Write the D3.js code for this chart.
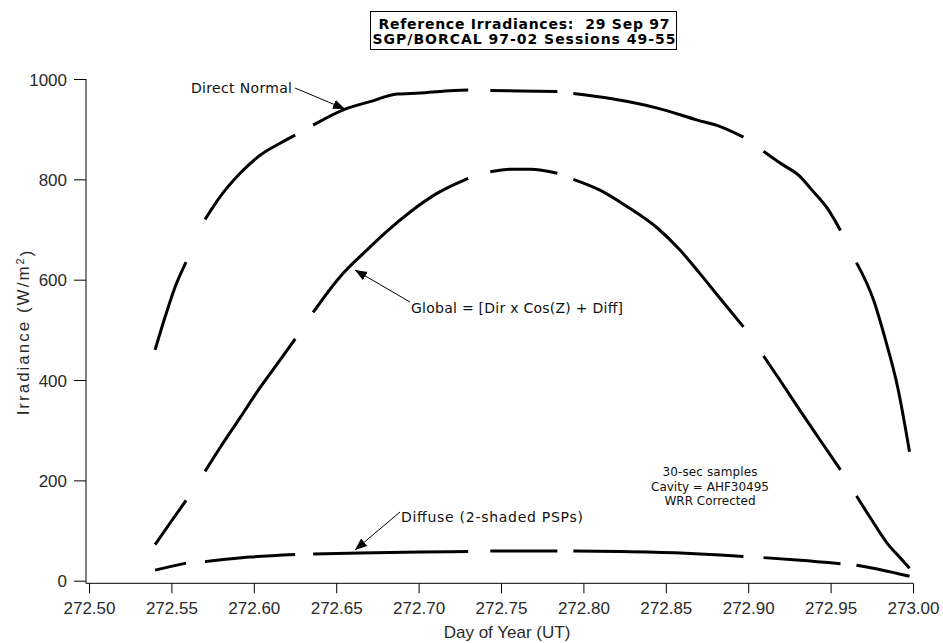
<!DOCTYPE html>
<html>
<head>
<meta charset="utf-8">
<script src="https://cdn.jsdelivr.net/npm/d3@7"></script>
<style>
  body { margin: 0; background: #fff; }
  svg { display: block; }
  .tick text { font-family: "Liberation Sans", Arial, sans-serif; font-size: 17px; fill: #2a2a2a; }
  .note { font-family: "DejaVu Sans", sans-serif; font-size: 14px; fill: #111; }
</style>
</head>
<body>
<svg width="943" height="643"></svg>
<script>
const width = 943;
const height = 643;

// x ticks (day of year, UT) and y ticks (W/m2)
const xTicks = [272.50, 272.55, 272.60, 272.65, 272.70, 272.75, 272.80, 272.85, 272.90, 272.95, 273.00];
const yTicks = [0, 200, 400, 600, 800, 1000];

// null = gap between sessions
const directDays = [272.5401, 272.5461, 272.5522, 272.5589, 272.5590,
    272.5704, 272.5795, 272.5917, 272.6038, 272.6160, 272.6251, 272.6252,
    272.6360, 272.6554, 272.6706, 272.6870, 272.7010, 272.7162, 272.7301, 272.7302,
    272.7435, 272.7617, 272.7842, 272.7843,
    272.7939, 272.8182, 272.8449, 272.8692, 272.8831, 272.8971, 272.8972,
    272.9093, 272.9196, 272.9317, 272.9378, 272.9481, 272.9560, 272.9561,
    272.9657, 272.9760, 272.9833, 272.9906, 272.9979];
const directVals = [460, 525, 585, 635, null,
    720, 765, 812, 848, 872, 888, null,
    908, 940, 955, 970, 972, 976, 978, null,
    977, 976, 975, null,
    971, 960, 942, 918, 905, 884, null,
    856, 832, 805, 782, 742, 698, null,
    634, 560, 480, 387, 257];

const globalDays = [272.5401, 272.5492, 272.5589, 272.5590,
    272.5704, 272.5795, 272.5917, 272.6038, 272.6160, 272.6251, 272.6252,
    272.6360, 272.6524, 272.6676, 272.6816, 272.6949, 272.7101, 272.7301, 272.7302,
    272.7435, 272.7556, 272.7678, 272.7842, 272.7843,
    272.7939, 272.8103, 272.8255, 272.8449, 272.8589, 272.8710, 272.8831, 272.8971, 272.8972,
    272.9093, 272.9196, 272.9317, 272.9439, 272.9560, 272.9561,
    272.9657, 272.9742, 272.9845, 272.9924, 272.9979];
const globalVals = [72, 115, 160, null,
    218, 265, 325, 385, 440, 482, null,
    535, 606, 656, 699, 735, 770, 802, null,
    815, 820, 820, 812, null,
    800, 778, 748, 703, 658, 611, 562, 506, null,
    448, 398, 338, 279, 221, null,
    169, 125, 74, 45, 25];

const diffuseDays = [272.5401, 272.5492, 272.5589, 272.5590,
    272.5704, 272.5977, 272.6251, 272.6252,
    272.6360, 272.6645, 272.7010, 272.7301, 272.7302,
    272.7435, 272.7842, 272.7843,
    272.7939, 272.8225, 272.8589, 272.8831, 272.8971, 272.8972,
    272.9093, 272.9317, 272.9560, 272.9561,
    272.9657, 272.9803, 272.9979];
const diffuseVals = [21, 28, 35, null,
    38, 47, 52, null,
    53, 55, 57, 58, null,
    59, 59, null,
    59, 58, 55, 51, 48, null,
    46, 41, 34, null,
    31, 22, 9];

const series = [
    { days: directDays, vals: directVals },
    { days: globalDays, vals: globalVals },
    { days: diffuseDays, vals: diffuseVals }
];

const svg = d3.select('svg');

const x = d3.scaleLinear().domain([272.5, 273.0]).range([89, 913]);
const y = d3.scaleLinear().domain([0, 1000]).range([580.7, 79]);
const axisY = 583.3;

// axes
const xAxis = svg.append('g')
    .attr('transform', `translate(0,${axisY})`)
    .call(d3.axisBottom(x).tickValues(xTicks).tickSize(10).tickPadding(9)
        .tickFormat(d3.format('.2f')));
xAxis.select('.domain').remove();

const yAxis = svg.append('g')
    .attr('transform', 'translate(86,0)')
    .call(d3.axisLeft(y).tickValues(yTicks).tickSize(12).tickPadding(7)
        .tickFormat(d3.format('d')));
yAxis.select('.domain').remove();
yAxis.selectAll('.tick text').attr('dy', '0.36em');

svg.append('line').attr('x1', 86).attr('x2', 913).attr('y1', axisY).attr('y2', axisY)
    .attr('stroke', '#000');
svg.append('line').attr('x1', 86).attr('x2', 86).attr('y1', 79).attr('y2', axisY)
    .attr('stroke', '#000');

svg.append('text')
    .attr('x', 507).attr('y', 638)
    .attr('text-anchor', 'middle')
    .style('font-family', '"Liberation Sans", Arial, sans-serif')
    .style('font-size', '17px').style('fill', '#2a2a2a')
    .text('Day of Year (UT)');

const yl = svg.append('text')
    .attr('transform', 'translate(29,332) rotate(-90)')
    .attr('text-anchor', 'middle')
    .style('font-family', '"Liberation Sans", Arial, sans-serif')
    .style('font-size', '17px').style('fill', '#2a2a2a')
    .style('letter-spacing', '2px');
yl.append('tspan').text('Irradiance (W/m');
yl.append('tspan').attr('dy', '-0.45em').style('font-size', '11px').text('2');
yl.append('tspan').attr('dy', '0.45em').text(')');

// data lines
const line = d3.line()
    .defined(d => d.v != null)
    .curve(d3.curveMonotoneX)
    .x(d => x(d.d))
    .y(d => y(d.v));

series.forEach(s => {
    const pts = s.days.map((d, i) => ({ d: d, v: s.vals[i] }));
    svg.append('path')
        .datum(pts)
        .attr('d', line)
        .attr('fill', 'none')
        .attr('stroke', '#000')
        .attr('stroke-width', 3)
        .attr('stroke-linejoin', 'round');
});

// title box
svg.append('rect')
    .attr('x', 370.5).attr('y', 11.5).attr('width', 306).attr('height', 38)
    .attr('fill', '#fff').attr('stroke', '#000');
const titleLines = [
    { t: 'Reference Irradiances:  29 Sep 97', w: 291 },
    { t: 'SGP/BORCAL 97-02 Sessions 49-55', w: 303 }
];
titleLines.forEach((l, i) => {
    svg.append('text')
        .attr('x', 524).attr('y', 29 + i * 15)
        .attr('text-anchor', 'middle')
        .attr('textLength', l.w)
        .attr('lengthAdjust', 'spacing')
        .attr('xml:space', 'preserve')
        .style('font-family', '"DejaVu Sans", sans-serif')
        .style('font-weight', 'bold')
        .style('font-size', '14px')
        .text(l.t);
});

// annotations with arrows
svg.append('defs').append('marker')
    .attr('id', 'arrow')
    .attr('viewBox', '0 0 10 10')
    .attr('refX', 10).attr('refY', 5)
    .attr('markerWidth', 12).attr('markerHeight', 12)
    .attr('markerUnits', 'userSpaceOnUse')
    .attr('orient', 'auto')
    .append('path').attr('d', 'M0,1 L10,5 L0,9 Z').attr('fill', '#000');

const notes = [
    { text: 'Direct Normal', tx: 191, ty: 93, w: 101, from: [295, 88], to: [345, 109] },
    { text: 'Global = [Dir x Cos(Z) + Diff]', tx: 411, ty: 313, w: 212, from: [410, 302], to: [355, 270] },
    { text: 'Diffuse (2-shaded PSPs)', tx: 401, ty: 522, w: 182, from: [400, 512], to: [355, 550] }
];
notes.forEach(n => {
    svg.append('text').attr('class', 'note')
        .attr('x', n.tx).attr('y', n.ty)
        .attr('textLength', n.w).attr('lengthAdjust', 'spacing')
        .text(n.text);
    svg.append('line')
        .attr('x1', n.from[0]).attr('y1', n.from[1])
        .attr('x2', n.to[0]).attr('y2', n.to[1])
        .attr('stroke', '#000').attr('stroke-width', 1)
        .attr('marker-end', 'url(#arrow)');
});

const sampleNote = [
    { t: '30-sec samples', w: 95 },
    { t: 'Cavity = AHF30495', w: 118 },
    { t: 'WRR Corrected', w: 91 }
];
sampleNote.forEach((l, i) => {
    svg.append('text')
        .attr('x', 710).attr('y', 476 + i * 14.5)
        .attr('text-anchor', 'middle')
        .attr('textLength', l.w).attr('lengthAdjust', 'spacing')
        .style('font-family', '"DejaVu Sans", sans-serif')
        .style('font-size', '12px').style('fill', '#111')
        .text(l.t);
});
</script>
</body>
</html>
